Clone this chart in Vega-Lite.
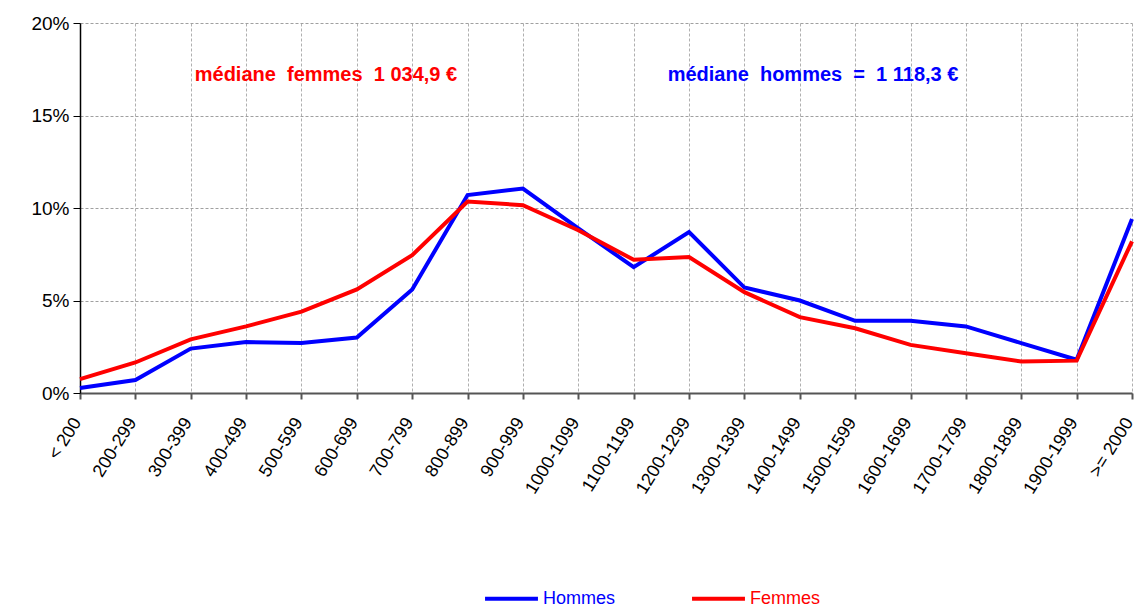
{
  "$schema": "https://vega.github.io/schema/vega-lite/v6.json",
  "autosize": "none",
  "width": 1052,
  "height": 370,
  "padding": {"left": 80, "top": 23, "right": 5, "bottom": 217},
  "background": "white",
  "config": {
    "view": {"stroke": null},
    "font": "Liberation Sans"
  },
  "datasets": {
    "series": [
      {"tranche": "< 200", "sexe": "Hommes", "pct": 0.27},
      {"tranche": "200-299", "sexe": "Hommes", "pct": 0.7},
      {"tranche": "300-399", "sexe": "Hommes", "pct": 2.4},
      {"tranche": "400-499", "sexe": "Hommes", "pct": 2.75},
      {"tranche": "500-599", "sexe": "Hommes", "pct": 2.7},
      {"tranche": "600-699", "sexe": "Hommes", "pct": 3.0},
      {"tranche": "700-799", "sexe": "Hommes", "pct": 5.6},
      {"tranche": "800-899", "sexe": "Hommes", "pct": 10.7},
      {"tranche": "900-999", "sexe": "Hommes", "pct": 11.05},
      {"tranche": "1000-1099", "sexe": "Hommes", "pct": 8.9},
      {"tranche": "1100-1199", "sexe": "Hommes", "pct": 6.8},
      {"tranche": "1200-1299", "sexe": "Hommes", "pct": 8.7},
      {"tranche": "1300-1399", "sexe": "Hommes", "pct": 5.7},
      {"tranche": "1400-1499", "sexe": "Hommes", "pct": 5.0},
      {"tranche": "1500-1599", "sexe": "Hommes", "pct": 3.9},
      {"tranche": "1600-1699", "sexe": "Hommes", "pct": 3.9},
      {"tranche": "1700-1799", "sexe": "Hommes", "pct": 3.6},
      {"tranche": "1800-1899", "sexe": "Hommes", "pct": 2.7},
      {"tranche": "1900-1999", "sexe": "Hommes", "pct": 1.8},
      {"tranche": ">= 2000", "sexe": "Hommes", "pct": 9.4},
      {"tranche": "< 200", "sexe": "Femmes", "pct": 0.75},
      {"tranche": "200-299", "sexe": "Femmes", "pct": 1.65},
      {"tranche": "300-399", "sexe": "Femmes", "pct": 2.9},
      {"tranche": "400-499", "sexe": "Femmes", "pct": 3.6},
      {"tranche": "500-599", "sexe": "Femmes", "pct": 4.4},
      {"tranche": "600-699", "sexe": "Femmes", "pct": 5.6},
      {"tranche": "700-799", "sexe": "Femmes", "pct": 7.45},
      {"tranche": "800-899", "sexe": "Femmes", "pct": 10.35},
      {"tranche": "900-999", "sexe": "Femmes", "pct": 10.15},
      {"tranche": "1000-1099", "sexe": "Femmes", "pct": 8.8},
      {"tranche": "1100-1199", "sexe": "Femmes", "pct": 7.2},
      {"tranche": "1200-1299", "sexe": "Femmes", "pct": 7.35},
      {"tranche": "1300-1399", "sexe": "Femmes", "pct": 5.45},
      {"tranche": "1400-1499", "sexe": "Femmes", "pct": 4.1},
      {"tranche": "1500-1599", "sexe": "Femmes", "pct": 3.5},
      {"tranche": "1600-1699", "sexe": "Femmes", "pct": 2.6},
      {"tranche": "1700-1799", "sexe": "Femmes", "pct": 2.15},
      {"tranche": "1800-1899", "sexe": "Femmes", "pct": 1.7},
      {"tranche": "1900-1999", "sexe": "Femmes", "pct": 1.75},
      {"tranche": ">= 2000", "sexe": "Femmes", "pct": 8.2}
    ],
    "notes": [
      {"tranche": "300-399", "pct": 17.2, "texte": "médiane\u00a0 femmes\u00a0 1 034,9 €", "sexe": "Femmes"},
      {"tranche": "1100-1199", "pct": 17.2, "texte": "médiane\u00a0 hommes\u00a0 =\u00a0 1 118,3 €", "sexe": "Hommes"}
    ]
  },
  "layer": [
    {
      "data": {"name": "series"},
      "transform": [{"filter": "datum.sexe === 'Hommes'"}],
      "mark": {"type": "line", "strokeWidth": 4, "strokeJoin": "miter"},
      "encoding": {
        "x": {
          "field": "tranche", "type": "ordinal",
          "sort": ["< 200","200-299","300-399","400-499","500-599","600-699","700-799","800-899","900-999","1000-1099","1100-1199","1200-1299","1300-1399","1400-1499","1500-1599","1600-1699","1700-1799","1800-1899","1900-1999",">= 2000"],
          "scale": {"type": "point", "padding": 0},
          "axis": {
            "title": null, "labelAngle": -58, "labelFontSize": 18, "labelColor": "#000000",
            "labelPadding": 20, "labelOffset": -3, "labelFlush": false, "labelOverlap": false, "tickSize": 6, "tickColor": "#555555", "tickWidth": 2,
            "domainColor": "#555555", "domainWidth": 2,
            "grid": true, "gridColor": "#b0b0b0", "gridDash": [3, 2], "gridWidth": 1
          }
        },
        "y": {
          "field": "pct", "type": "quantitative",
          "scale": {"domain": [0, 20], "nice": false},
          "axis": {
            "title": null, "values": [0, 5, 10, 15, 20], "labelExpr": "datum.value + '%'",
            "labelFontSize": 19, "labelColor": "#000000", "labelPadding": 4,
            "tickSize": 7, "tickColor": "#000000", "domainColor": "#000000", "domainWidth": 1.5,
            "grid": true, "gridColor": "#a0a0a0", "gridDash": [3, 2], "gridWidth": 1
          }
        },
        "color": {
          "field": "sexe", "type": "nominal",
          "scale": {"domain": ["Hommes", "Femmes"], "range": ["#0000ff", "#ff0000"]},
          "legend": {
            "title": null, "orient": "none", "legendX": 403, "legendY": 547,
            "direction": "horizontal", "symbolType": "stroke", "symbolStrokeWidth": 4,
            "symbolSize": 2800, "labelFontSize": 18, "labelOffset": 3, "columnPadding": 68,
            "encode": {"labels": {"update": {"fill": {"signal": "datum.value === 'Hommes' ? '#0000ff' : '#ff0000'"}}}}
          }
        }
      }
    },
    {
      "data": {"name": "series"},
      "transform": [{"filter": "datum.sexe === 'Femmes'"}],
      "mark": {"type": "line", "strokeWidth": 4, "strokeJoin": "miter"},
      "encoding": {
        "x": {"field": "tranche", "type": "ordinal", "sort": ["< 200","200-299","300-399","400-499","500-599","600-699","700-799","800-899","900-999","1000-1099","1100-1199","1200-1299","1300-1399","1400-1499","1500-1599","1600-1699","1700-1799","1800-1899","1900-1999",">= 2000"]},
        "y": {"field": "pct", "type": "quantitative"},
        "color": {"field": "sexe", "type": "nominal"}
      }
    },
    {
      "data": {"name": "notes"},
      "transform": [{"filter": "datum.sexe === 'Femmes'"}],
      "mark": {"type": "text", "align": "left", "baseline": "middle", "fontSize": 20, "fontWeight": "bold", "font": "Liberation Sans", "dx": 4},
      "encoding": {
        "x": {"field": "tranche", "type": "ordinal", "sort": ["< 200","200-299","300-399","400-499","500-599","600-699","700-799","800-899","900-999","1000-1099","1100-1199","1200-1299","1300-1399","1400-1499","1500-1599","1600-1699","1700-1799","1800-1899","1900-1999",">= 2000"]},
        "y": {"field": "pct", "type": "quantitative"},
        "text": {"field": "texte"},
        "color": {"field": "sexe", "type": "nominal"}
      }
    },
    {
      "data": {"name": "notes"},
      "transform": [{"filter": "datum.sexe === 'Hommes'"}],
      "mark": {"type": "text", "align": "left", "baseline": "middle", "fontSize": 20, "fontWeight": "bold", "font": "Liberation Sans", "dx": 34},
      "encoding": {
        "x": {"field": "tranche", "type": "ordinal", "sort": ["< 200","200-299","300-399","400-499","500-599","600-699","700-799","800-899","900-999","1000-1099","1100-1199","1200-1299","1300-1399","1400-1499","1500-1599","1600-1699","1700-1799","1800-1899","1900-1999",">= 2000"]},
        "y": {"field": "pct", "type": "quantitative"},
        "text": {"field": "texte"},
        "color": {"field": "sexe", "type": "nominal"}
      }
    }
  ]
}
